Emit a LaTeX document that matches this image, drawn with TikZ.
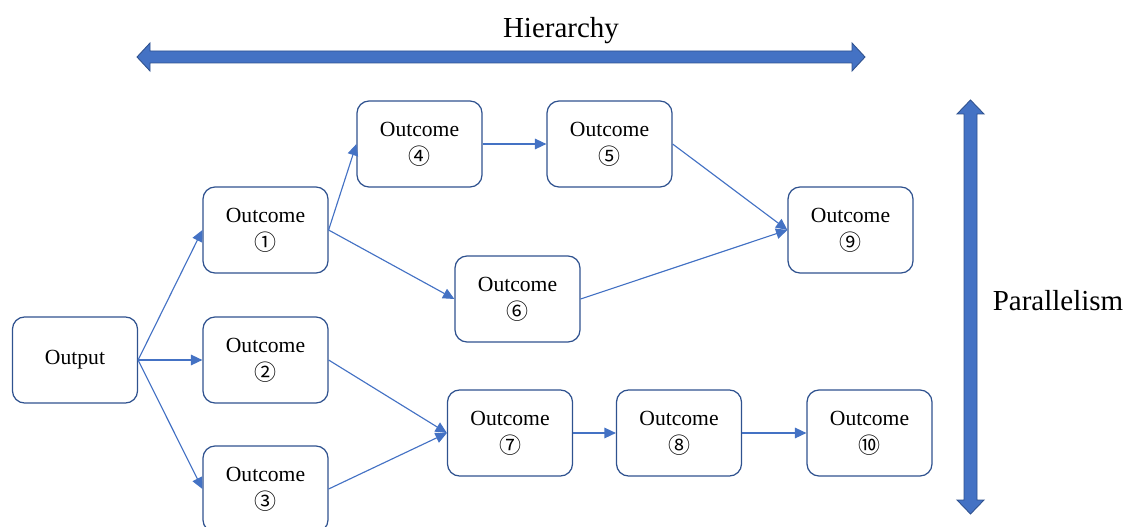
\documentclass[tikz,border=0pt]{standalone}
\usepackage{fontspec}
\setmainfont{Liberation Serif}
\newfontfamily\circfont{Noto Sans CJK SC}
\usetikzlibrary{arrows.meta}
\definecolor{boxline}{HTML}{2F528F}
\definecolor{linkblue}{HTML}{4472C4}
\newcommand{\oc}[1]{Outcome\\[1pt]{\circfont\fontsize{12.5}{13}\selectfont #1}}
\begin{document}
\begin{tikzpicture}[x=0.02cm,y=-0.02cm,
  stepbox/.style={draw=boxline,line width=0.7pt,rounded corners=0.24cm,minimum width=2.5cm,minimum height=1.72cm,align=center,font=\fontsize{12.3}{14.7}\selectfont},
  link/.style={draw=linkblue,line width=0.65pt,-{Triangle[length=6.5pt,width=6pt]}},
  bigarrow/.style={fill=linkblue,draw=boxline,line width=0.5pt}]
\useasboundingbox (0,0) rectangle (1126,527);
\node[stepbox] (out) at (75,360) {Output};
\node[stepbox] (o1) at (265.5,230) {\oc{①}};
\node[stepbox] (o2) at (265.5,360) {\oc{②}};
\node[stepbox] (o3) at (265.5,489) {\oc{③}};
\node[stepbox] (o4) at (419.5,144) {\oc{④}};
\node[stepbox] (o5) at (609.5,144) {\oc{⑤}};
\node[stepbox] (o6) at (517.5,299) {\oc{⑥}};
\node[stepbox] (o7) at (510,433) {\oc{⑦}};
\node[stepbox] (o8) at (679,433) {\oc{⑧}};
\node[stepbox] (o9) at (850.5,230) {\oc{⑨}};
\node[stepbox] (o10) at (869.5,433) {\oc{⑩}};
\draw[link] (out.east) -- (o1.west);
\draw[link] (out.east) -- (o2.west);
\draw[link] (out.east) -- (o3.west);
\draw[link] (o1.east) -- (o4.west);
\draw[link] (o1.east) -- (o6.west);
\draw[link] (o4.east) -- (o5.west);
\draw[link] (o5.east) -- (o9.west);
\draw[link] (o6.east) -- (o9.west);
\draw[link] (o2.east) -- (o7.west);
\draw[link] (o3.east) -- (o7.west);
\draw[link] (o7.east) -- (o8.west);
\draw[link] (o8.east) -- (o10.west);
\draw[bigarrow] (137,57) -- (150,43) -- (150,51) -- (852,51) -- (852,43) -- (865,57)
  -- (852,71) -- (852,63) -- (150,63) -- (150,71) -- cycle;
\draw[bigarrow] (970.5,100) -- (984,114) -- (977,114) -- (977,500) -- (984,500) -- (970.5,514)
  -- (957,500) -- (964,500) -- (964,114) -- (957,114) -- cycle;
\node[font=\fontsize{16.5}{18}\selectfont] (hier) at (561,31) {Hierarchy};
\node[font=\fontsize{16.5}{18}\selectfont] (para) at (1058,301) {Parallelism};
\end{tikzpicture}
\end{document}
